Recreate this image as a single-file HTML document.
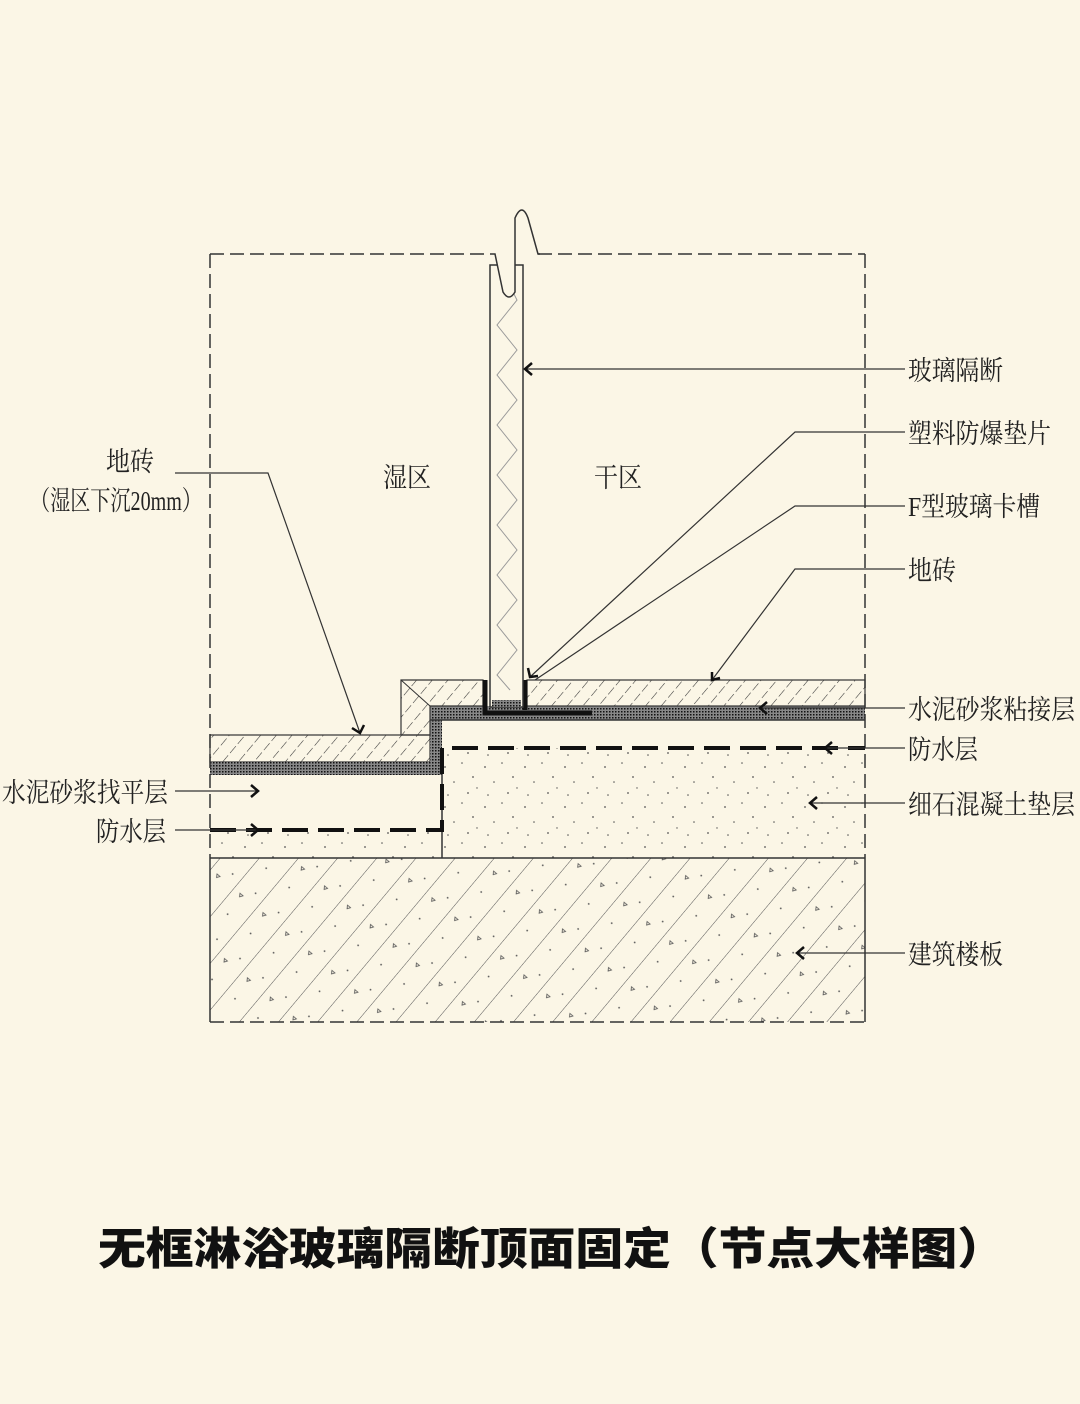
<!DOCTYPE html>
<html><head><meta charset="utf-8"><style>
html,body{margin:0;padding:0;background:#fbf6e6;}
svg{display:block}
.t{font-family:"Liberation Serif","Noto Serif CJK SC",serif;font-size:27px;fill:#222;}
</style></head><body>
<svg width="1080" height="1404" viewBox="0 0 1080 1404" xmlns="http://www.w3.org/2000/svg">
<defs>
<pattern id="tile" width="12" height="12" patternUnits="userSpaceOnUse" patternTransform="rotate(40)">
<line x1="0" y1="0" x2="0" y2="9" stroke="#333" stroke-width="1.1"/>
</pattern>
<pattern id="mort" width="3" height="3" patternUnits="userSpaceOnUse">
<rect width="3" height="3" fill="#888"/><rect width="1.5" height="1.5" fill="#111"/>
</pattern>
<pattern id="conc" width="40" height="40" patternUnits="userSpaceOnUse">
<circle cx="5" cy="7" r="0.9" fill="#555"/><circle cx="22" cy="3" r="0.8" fill="#555"/>
<circle cx="33" cy="17" r="0.9" fill="#555"/><circle cx="14" cy="22" r="0.8" fill="#555"/>
<circle cx="28" cy="33" r="0.9" fill="#555"/><circle cx="8" cy="35" r="0.8" fill="#555"/>
<circle cx="37" cy="28" r="0.7" fill="#555"/>
</pattern>
<pattern id="slab" width="30" height="60" patternUnits="userSpaceOnUse" patternTransform="rotate(40)">
<line x1="0" y1="0" x2="0" y2="60" stroke="#555" stroke-width="1"/>
<circle cx="12" cy="14" r="0.9" fill="#555"/><circle cx="20" cy="40" r="0.9" fill="#555"/>
<path d="M8 50 l4 0 l-2 3z" fill="none" stroke="#555" stroke-width="0.8"/>
</pattern>
</defs>

<rect x="210" y="858" width="655" height="164" fill="url(#slab)"/>
<rect x="442" y="748" width="423" height="110" fill="url(#conc)"/>
<rect x="210" y="830" width="232" height="28" fill="url(#conc)"/>
<rect x="210" y="735" width="220" height="27" fill="url(#tile)" stroke="#333" stroke-width="1.2"/>
<rect x="210" y="762" width="232" height="13" fill="url(#mort)"/>
<rect x="430" y="706" width="435" height="14" fill="url(#mort)"/>
<rect x="430" y="706" width="12" height="69" fill="url(#mort)"/>
<path d="M401 680 H483 V706 H430 V735 H401 Z" fill="url(#tile)" stroke="#333" stroke-width="1.2"/>
<line x1="401" y1="680" x2="430" y2="706" stroke="#333" stroke-width="1"/>
<rect x="527" y="680" width="338" height="26" fill="url(#tile)" stroke="#333" stroke-width="1.2"/>
<path d="M485 680 V713 H592 M525 680 V710" fill="none" stroke="#111" stroke-width="5"/>
<!-- glass -->
<rect x="490" y="265" width="33" height="442" fill="#fbf6e6" stroke="#333" stroke-width="1.5"/>
<polyline points="507,280 517,300 497,325 517,350 497,375 517,400 497,425 517,450 497,475 517,500 497,525 517,550 497,575 517,600 497,625 517,650 497,675 510,690" fill="none" stroke="#999" stroke-width="1"/>
<rect x="492" y="700" width="29" height="7" fill="url(#mort)"/>
<!-- frame -->
<g stroke="#333" stroke-width="1.5" fill="none">
<line x1="210" y1="254" x2="493" y2="254" stroke-dasharray="14 6"/>
<line x1="538" y1="254" x2="865" y2="254" stroke-dasharray="14 6"/>
<path d="M493 254 H495 L503 292 Q509 302 515 292 L515 218 Q522 202 528 218 L538 254 H540" fill="#fbf6e6"/>
<line x1="210" y1="254" x2="210" y2="858" stroke-dasharray="14 6"/>
<line x1="865" y1="254" x2="865" y2="858" stroke-dasharray="14 6"/>
<line x1="210" y1="858" x2="210" y2="1022"/>
<line x1="865" y1="858" x2="865" y2="1022"/>
<line x1="210" y1="1022" x2="865" y2="1022" stroke-dasharray="14 6"/>
<line x1="210" y1="858" x2="865" y2="858"/>
<line x1="442" y1="748" x2="442" y2="858"/>
<line x1="430" y1="720" x2="865" y2="720"/>
</g>
<path d="M210 830 H442 V748 H865" fill="none" stroke="#111" stroke-width="4" stroke-dasharray="26 10"/>

<g stroke="#333" stroke-width="1.2" fill="none">
<polyline points="175,473 268,473 360,733"/>
<line x1="525" y1="369" x2="905" y2="369"/>
<polyline points="905,432 795,432 530,677"/>
<polyline points="905,506 795,506 535,680"/>
<polyline points="905,569 795,569 712,680"/>
<line x1="760" y1="708" x2="905" y2="708"/>
<line x1="825" y1="748" x2="905" y2="748"/>
<line x1="810" y1="803" x2="905" y2="803"/>
<line x1="797" y1="953" x2="905" y2="953"/>
<line x1="175" y1="791" x2="258" y2="791"/>
<line x1="175" y1="830" x2="258" y2="830"/>
</g>
<g stroke="#111" stroke-width="2.5" fill="none">
<polyline points="532,363 525,369 532,375"/>
<polyline points="832,742 825,748 832,754"/>
<polyline points="817,797 810,803 817,809"/>
<polyline points="804,947 797,953 804,959"/>
<polyline points="767,702 760,708 767,714"/>
<polyline points="251,785 258,791 251,797"/>
<polyline points="251,824 258,830 251,836"/>
<polyline points="352,728 360,733 364,725"/>
<polyline points="712,672 712,680 720,678"/>
<polyline points="528,668 530,677 538,676"/>
</g>

<g class="t">
<text x="908" y="380" textLength="95" lengthAdjust="spacingAndGlyphs">玻璃隔断</text>
<text x="908" y="443" textLength="143" lengthAdjust="spacingAndGlyphs">塑料防爆垫片</text>
<text x="908" y="516" textLength="132" lengthAdjust="spacingAndGlyphs">F型玻璃卡槽</text>
<text x="908" y="580" textLength="48" lengthAdjust="spacingAndGlyphs">地砖</text>
<text x="908" y="719" textLength="167" lengthAdjust="spacingAndGlyphs">水泥砂浆粘接层</text>
<text x="908" y="759" textLength="70" lengthAdjust="spacingAndGlyphs">防水层</text>
<text x="908" y="814" textLength="167" lengthAdjust="spacingAndGlyphs">细石混凝土垫层</text>
<text x="908" y="964" textLength="95" lengthAdjust="spacingAndGlyphs">建筑楼板</text>
<text x="106" y="471" textLength="48" lengthAdjust="spacingAndGlyphs">地砖</text>
<text x="30" y="510" textLength="172" lengthAdjust="spacingAndGlyphs">（湿区下沉20mm）</text>
<text x="2" y="802" textLength="166" lengthAdjust="spacingAndGlyphs">水泥砂浆找平层</text>
<text x="96" y="841" textLength="70" lengthAdjust="spacingAndGlyphs">防水层</text>
<text x="383" y="487" textLength="48" lengthAdjust="spacingAndGlyphs">湿区</text>
<text x="594" y="487" textLength="48" lengthAdjust="spacingAndGlyphs">干区</text>
</g>
<text x="98" y="1264" textLength="907" lengthAdjust="spacingAndGlyphs" style="font-family:'Liberation Sans','Noto Sans CJK SC',sans-serif;font-weight:900;font-size:44px;fill:#111">无框淋浴玻璃隔断顶面固定（节点大样图）</text>
</svg>
</body></html>
